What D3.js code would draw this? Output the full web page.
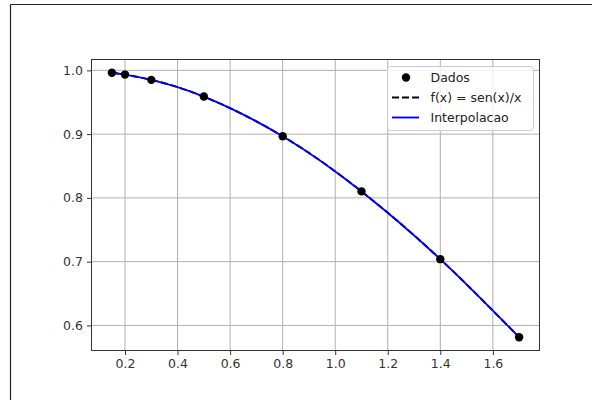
<!DOCTYPE html>
<html>
<head>
<meta charset="utf-8">
<script src="https://cdn.jsdelivr.net/npm/d3@7"></script>
<style>
  html, body { margin: 0; padding: 0; background: #fff; }
  svg { display: block; }
  text { font-family: "DejaVu Sans", sans-serif; }
</style>
</head>
<body>
<svg id="chart" width="592" height="400"></svg>
<script>
// Data
const xData = [0.15, 0.2, 0.3, 0.5, 0.8, 1.1, 1.4, 1.7];
const yData = [0.9963, 0.9934, 0.9851, 0.9589, 0.8967, 0.8102, 0.7039, 0.5814];
const xTicks = [0.2, 0.4, 0.6, 0.8, 1.0, 1.2, 1.4, 1.6];
const yTicks = [0.6, 0.7, 0.8, 0.9, 1.0];
const legendLabels = ["Dados", "f(x) = sen(x)/x", "Interpolacao"];

(function () {
const svg = d3.select("#chart");
const W = 592, H = 400;
const pL = 91.5, pR = 539.5, pT = 59.5, pB = 350.5;

// frame border of the image
svg.append("line").attr("x1", 10.5).attr("x2", W).attr("y1", 4.5).attr("y2", 4.5)
  .attr("stroke", "#222").attr("stroke-width", 1.2);
svg.append("line").attr("x1", 10.5).attr("x2", 10.5).attr("y1", 4.5).attr("y2", H)
  .attr("stroke", "#222").attr("stroke-width", 1.2);

const xExt = d3.extent(xData), yExt = d3.extent(yData);
const xm = (xExt[1] - xExt[0]) * 0.05, ym = (yExt[1] - yExt[0]) * 0.05;
const x = d3.scaleLinear().domain([xExt[0] - xm, xExt[1] + xm]).range([pL, pR]);
const y = d3.scaleLinear().domain([yExt[0] - ym, yExt[1] + ym]).range([pB, pT]);

const fs = 12.5;

// grid
const grid = svg.append("g");
xTicks.forEach(t => grid.append("line")
  .attr("x1", x(t)).attr("x2", x(t)).attr("y1", pT).attr("y2", pB)
  .attr("stroke", "#b0b0b0").attr("stroke-width", 1));
yTicks.forEach(t => grid.append("line")
  .attr("x1", pL).attr("x2", pR).attr("y1", y(t)).attr("y2", y(t))
  .attr("stroke", "#b0b0b0").attr("stroke-width", 1));

// axes
const xAxis = d3.axisBottom(x).tickValues(xTicks).tickFormat(d3.format(".1f"))
  .tickSizeInner(4.5).tickSizeOuter(0).tickPadding(4);
const yAxis = d3.axisLeft(y).tickValues(yTicks).tickFormat(d3.format(".1f"))
  .tickSizeInner(4.5).tickSizeOuter(0).tickPadding(4);

const gx = svg.append("g").attr("transform", `translate(0,${pB})`).call(xAxis);
const gy = svg.append("g").attr("transform", `translate(${pL},0)`).call(yAxis);
[gx, gy].forEach(g => {
  g.select(".domain").remove();
  g.selectAll(".tick line").attr("stroke", "#333").attr("stroke-width", 1);
  g.selectAll(".tick text").attr("fill", "#333").style("font-size", fs + "px")
    .style("font-family", "DejaVu Sans, sans-serif");
});

// curves
const pts = xData.map((d, i) => [d, yData[i]]);
const lineGen = d3.line().x(d => x(d[0])).y(d => y(d[1])).curve(d3.curveNatural);

svg.append("path").datum(pts).attr("d", lineGen)
  .attr("fill", "none").attr("stroke", "#000").attr("stroke-width", 1.9)
  .attr("stroke-dasharray", "7,3");
svg.append("path").datum(pts).attr("d", lineGen)
  .attr("fill", "none").attr("stroke", "#0000ff").attr("stroke-width", 1.9);

// points
svg.append("g").selectAll("circle").data(pts).join("circle")
  .attr("cx", d => x(d[0])).attr("cy", d => y(d[1])).attr("r", 4.2)
  .attr("fill", "#000");

// spines
svg.append("rect").attr("x", pL).attr("y", pT)
  .attr("width", pR - pL).attr("height", pB - pT)
  .attr("fill", "none").attr("stroke", "#333").attr("stroke-width", 1);

// legend
const lg = svg.append("g");
lg.append("rect").attr("x", 387.5).attr("y", 66.5).attr("width", 146).attr("height", 64)
  .attr("rx", 3).attr("fill", "#fff").attr("fill-opacity", 0.8)
  .attr("stroke", "#cccccc").attr("stroke-width", 1);
const rowY = [77.5, 97.5, 117.5];
lg.append("circle").attr("cx", 406).attr("cy", rowY[0]).attr("r", 4.2).attr("fill", "#000");
lg.append("line").attr("x1", 392).attr("x2", 419).attr("y1", rowY[1]).attr("y2", rowY[1])
  .attr("stroke", "#000").attr("stroke-width", 1.9).attr("stroke-dasharray", "7,3");
lg.append("line").attr("x1", 392).attr("x2", 419).attr("y1", rowY[2]).attr("y2", rowY[2])
  .attr("stroke", "#0000ff").attr("stroke-width", 1.9);
legendLabels.forEach((t, i) => lg.append("text")
  .attr("x", 430.5).attr("y", rowY[i]).attr("dy", "0.36em")
  .attr("fill", "#222").style("font-size", fs + "px").text(t));
})();
</script>
</body>
</html>
